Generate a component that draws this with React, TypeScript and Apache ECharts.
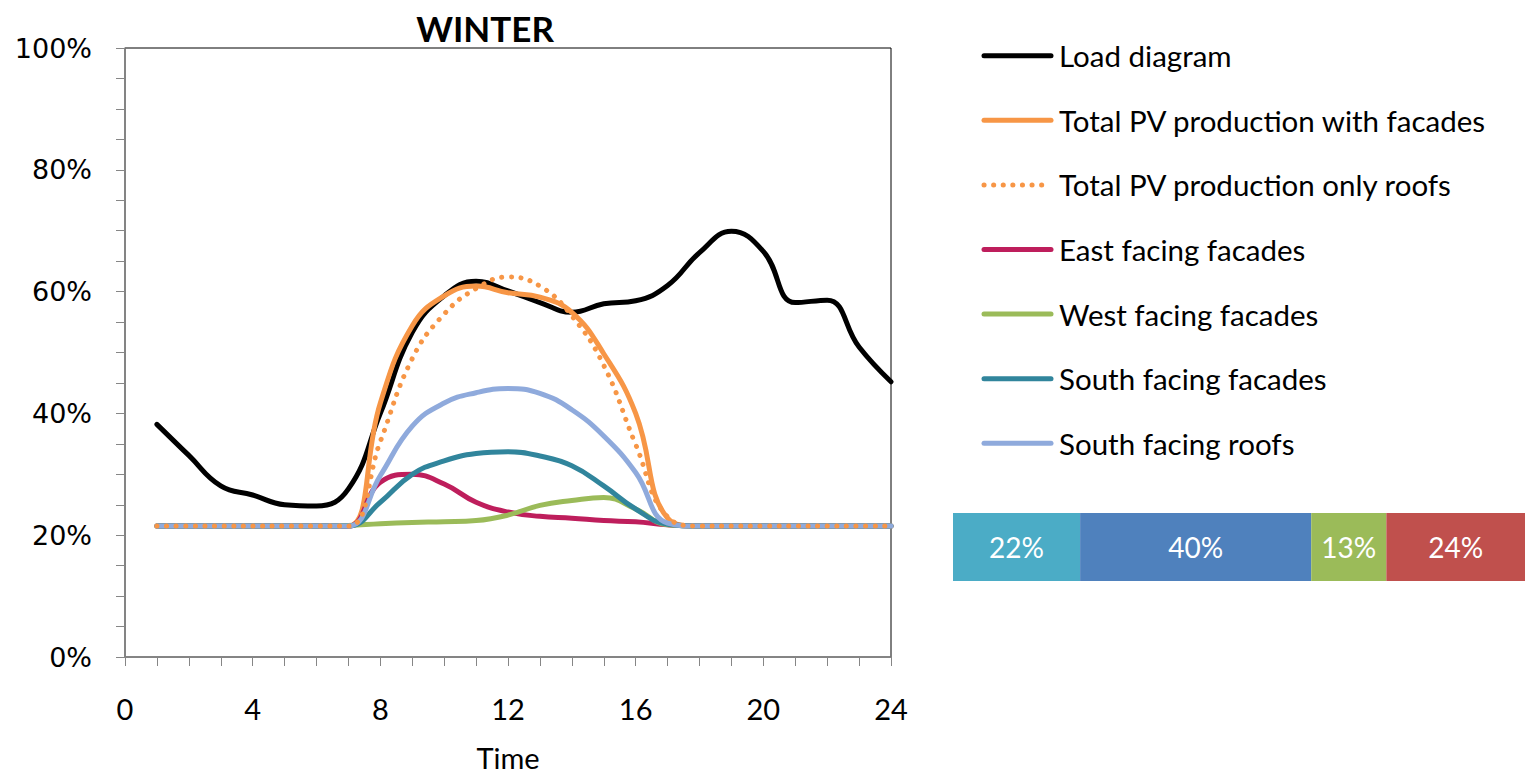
import React, { useEffect, useRef } from "react";
import * as echarts from "echarts";

// ---- data ----
const hours = [1, 2, 3, 4, 5, 6, 7, 8, 9, 10, 11, 12, 13, 14, 15, 16, 17, 18, 19, 20, 21, 22, 23, 24];
const loadDiagram = [38.2, 33.1, 28.1, 26.6, 25.0, 24.8, 27.6, 40.0, 53.3, 59.3, 61.7, 60.1, 58.2, 56.6, 58.0, 58.5, 61.0, 66.4, 69.9, 66.6, 58.2, 58.6, 50.9, 45.2];
const totalWithFacades = [21.5, 21.5, 21.5, 21.5, 21.5, 21.5, 21.5, 41.7, 54.4, 59.3, 60.9, 59.8, 59.1, 56.6, 49.8, 40.0, 22.8, 21.5, 21.5, 21.5, 21.5, 21.5, 21.5, 21.5];
const totalOnlyRoofs = [21.5, 21.5, 21.5, 21.5, 21.5, 21.5, 21.5, 35.4, 49.0, 56.3, 60.5, 62.4, 60.9, 56.0, 47.9, 34.9, 23.0, 21.5, 21.5, 21.5, 21.5, 21.5, 21.5, 21.5];
const eastFacades = [21.5, 21.5, 21.5, 21.5, 21.5, 21.5, 21.5, 28.7, 30.0, 28.4, 25.4, 23.8, 23.1, 22.8, 22.4, 22.2, 21.7, 21.5, 21.5, 21.5, 21.5, 21.5, 21.5, 21.5];
const westFacades = [21.5, 21.5, 21.5, 21.5, 21.5, 21.5, 21.6, 21.9, 22.1, 22.2, 22.4, 23.3, 24.9, 25.7, 26.2, 24.3, 21.7, 21.5, 21.5, 21.5, 21.5, 21.5, 21.5, 21.5];
const southFacades = [21.5, 21.5, 21.5, 21.5, 21.5, 21.5, 21.5, 25.4, 30.0, 32.2, 33.4, 33.7, 33.0, 31.4, 28.1, 24.3, 21.8, 21.5, 21.5, 21.5, 21.5, 21.5, 21.5, 21.5];
const southRoofs = [21.5, 21.5, 21.5, 21.5, 21.5, 21.5, 21.5, 29.8, 37.9, 41.7, 43.4, 44.1, 43.3, 40.6, 36.3, 30.3, 22.0, 21.5, 21.5, 21.5, 21.5, 21.5, 21.5, 21.5];

const seriesNames = [
  "Load diagram",
  "Total PV production with facades",
  "Total PV production only roofs",
  "East facing facades",
  "West facing facades",
  "South facing facades",
  "South facing roofs",
];

const shareValues = [22, 40, 13, 24];
const shareLabels = ["22%", "40%", "13%", "24%"];

const xTicks = [0, 4, 8, 12, 16, 20, 24];
const yTicks = [0, 20, 40, 60, 80, 100];

const pair = (vals: number[]) => hours.map((h, i) => [h, vals[i]]);

export default function App() {
  const ref = useRef<HTMLDivElement>(null);

  useEffect(() => {
    if (!ref.current) return;
    const chart = echarts.init(ref.current, undefined, { renderer: "svg" });

    const lineColors: Record<string, string> = {
      "Load diagram": "#000000",
      "Total PV production with facades": "#F79646",
      "Total PV production only roofs": "#F79646",
      "East facing facades": "#BE1E5C",
      "West facing facades": "#9BBB59",
      "South facing facades": "#31859C",
      "South facing roofs": "#8FAADC",
    };
    const dottedSet = new Set(["Total PV production only roofs"]);
    const shareColors = ["#4BACC6", "#4F81BD", "#9BBB59", "#C0504D"];
    const LW = 5;
    const DOT: number[] = [0.1, 9.5];

    const mkLine = (name: string, vals: number[], z: number) => ({
      type: "line",
      name,
      data: pair(vals),
      xAxisIndex: 0,
      yAxisIndex: 0,
      smooth: 0.45,
      symbol: "none",
      showSymbol: false,
      z,
      lineStyle: {
        color: lineColors[name],
        width: LW,
        type: dottedSet.has(name) ? DOT : "solid",
        cap: "round",
        join: "round",
      },
      itemStyle: { color: lineColors[name] },
    });

    const lineSeries = [
      mkLine(seriesNames[0], loadDiagram, 2),
      mkLine(seriesNames[1], totalWithFacades, 3),
      mkLine(seriesNames[3], eastFacades, 4),
      mkLine(seriesNames[4], westFacades, 5),
      mkLine(seriesNames[5], southFacades, 6),
      mkLine(seriesNames[6], southRoofs, 7),
      mkLine(seriesNames[2], totalOnlyRoofs, 8),
    ];

    const barSeries = shareValues.map((v, i) => ({
      type: "bar",
      name: "share " + shareLabels[i],
      stack: "share",
      xAxisIndex: 1,
      yAxisIndex: 1,
      barWidth: "100%",
      data: [v],
      itemStyle: { color: shareColors[i] },
      label: {
        show: true,
        position: "inside",
        formatter: shareLabels[i],
        color: "#ffffff",
        fontFamily: "Lato",
        fontSize: 28,
      },
    }));

    // manual legend (line samples + labels)
    const legendTop = 55.7;
    const legendStep = 64.6;
    const legendItems: any[] = [];
    seriesNames.forEach((name, i) => {
      const y = legendTop + i * legendStep;
      legendItems.push({
        type: "line",
        shape: { x1: 984, y1: y, x2: 1051, y2: y },
        style: {
          stroke: lineColors[name],
          lineWidth: 5,
          lineCap: "round",
          lineDash: dottedSet.has(name) ? [0.1, 9.5] : null,
        },
      });
      legendItems.push({
        type: "text",
        x: 1059,
        y,
        style: {
          text: name,
          fontFamily: "Lato",
          fontSize: 29.5,
          fill: "#000",
          textAlign: "left",
          textVerticalAlign: "middle",
        },
      });
    });

    chart.setOption({
      animation: false,
      backgroundColor: "#ffffff",
      graphic: [
        {
          type: "text",
          x: 485,
          y: 28,
          style: {
            text: "WINTER",
            fontFamily: "Lato",
            fontWeight: "bold",
            fontSize: 35,
            fill: "#000",
            textAlign: "center",
            textVerticalAlign: "middle",
          },
        },
        ...legendItems,
      ],
      grid: [
        {
          left: 125,
          top: 48,
          width: 766,
          height: 615,
          show: true,
          borderColor: "#000",
          borderWidth: 1,
          backgroundColor: "transparent",
        },
        { left: 953, top: 513, width: 572, height: 68 },
      ],
      xAxis: [
        {
          type: "value",
          gridIndex: 0,
          min: 0,
          max: 24,
          interval: 4,
          name: "Time",
          nameLocation: "middle",
          nameGap: 86,
          nameTextStyle: { fontFamily: "Lato", fontSize: 29, color: "#000" },
          axisLine: { show: true, lineStyle: { color: "#868686", width: 1.5 } },
          axisTick: { show: true, length: 9, lineStyle: { color: "#868686" } },
          minorTick: { show: true, splitNumber: 4, length: 9, lineStyle: { color: "#868686" } },
          splitLine: { show: false },
          axisLabel: {
            margin: 37,
            fontFamily: "Lato",
            fontSize: 29,
            color: "#000",
            formatter: (v: number) => (xTicks.includes(v) ? String(v) : ""),
          },
        },
        {
          type: "value",
          gridIndex: 1,
          min: 0,
          max: 99,
          show: false,
        },
      ],
      yAxis: [
        {
          type: "value",
          gridIndex: 0,
          min: 0,
          max: 100,
          interval: 20,
          axisLine: { show: true, lineStyle: { color: "#868686", width: 1.5 } },
          axisTick: { show: true, length: 9, lineStyle: { color: "#868686" } },
          minorTick: { show: true, splitNumber: 4, length: 9, lineStyle: { color: "#868686" } },
          splitLine: { show: false },
          axisLabel: {
            margin: 33,
            fontFamily: "DejaVu Sans",
            fontSize: 27,
            color: "#000",
            formatter: (v: number) => (yTicks.includes(v) ? v + "%" : ""),
          },
        },
        {
          type: "category",
          gridIndex: 1,
          data: ["share"],
          show: false,
        },
      ],
      series: [...lineSeries, ...barSeries],
    });

    return () => chart.dispose();
  }, []);

  return (
    <div
      ref={ref}
      style={{ position: "fixed", left: 0, top: 0, width: 1529, height: 777, background: "#fff" }}
    />
  );
}
